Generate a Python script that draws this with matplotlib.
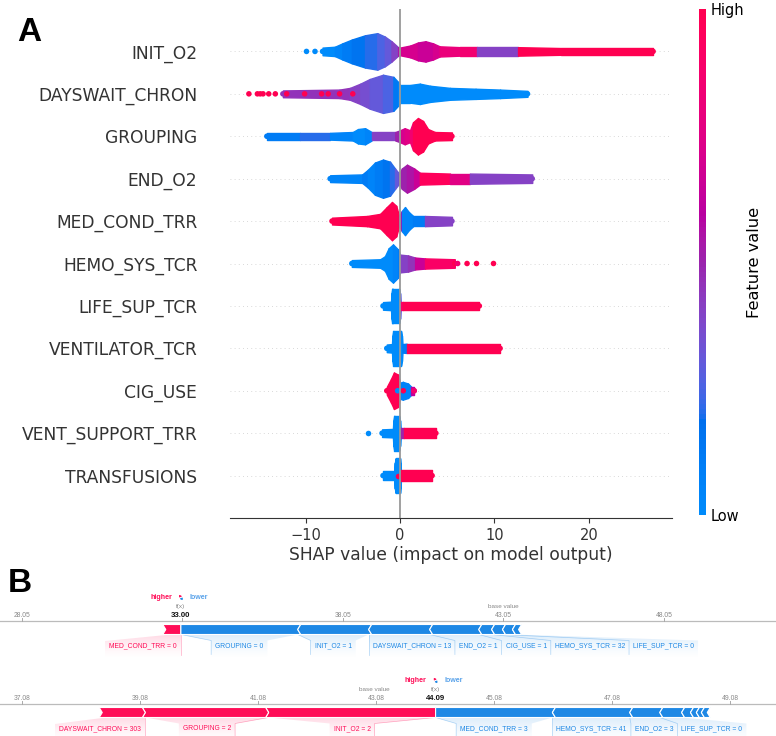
import numpy as np
import matplotlib
matplotlib.use("Agg")
import matplotlib.pyplot as plt
from matplotlib.colors import ListedColormap
from matplotlib.patches import Polygon
from matplotlib.cm import ScalarMappable

# ---------------- panel A: SHAP summary (beeswarm) ----------------
# rows from bottom to top
FEATURES = ["TRANSFUSIONS", "VENT_SUPPORT_TRR", "CIG_USE", "VENTILATOR_TCR",
            "LIFE_SUP_TCR", "HEMO_SYS_TCR", "MED_COND_TRR", "END_O2",
            "GROUPING", "DAYSWAIT_CHRON", "INIT_O2"]

# swarm outline per feature: shap value, half thickness (row units), feature value colour (0 low .. 1 high)
INIT_O2_X = [-8.2, -6.9, -6.1, -5.1, -3.7, -2.4, -1.6, -0.9, -0.2, 0.0, 1.1, 1.9, 2.7, 3.5, 4.2, 6.4, 8.2, 12.5, 17.0, 26.8]
INIT_O2_H = [0.09, 0.11, 0.19, 0.28, 0.38, 0.43, 0.35, 0.24, 0.10, 0.09, 0.14, 0.21, 0.24, 0.19, 0.12, 0.10, 0.10, 0.10, 0.08, 0.08]
INIT_O2_C = [0.0, 0.05, 0.1, 0.15, 0.2, 0.25, 0.3, 0.4, 0.55, 0.7, 0.7, 0.65, 0.65, 0.7, 0.8, 0.85, 0.4, 1.0, 1.0, 1.0]
INIT_O2_DOTS = [-9.9, -9.0]
INIT_O2_DOTC = [0.0, 0.0]

DAYSWAIT_X = [-12.4, -6.4, -5.3, -4.2, -3.2, -1.8, -0.7, -0.2, 0.0, 1.1, 2.1, 3.2, 5.3, 8.0, 10.6, 13.5]
DAYSWAIT_H = [0.08, 0.10, 0.14, 0.24, 0.35, 0.45, 0.40, 0.28, 0.21, 0.21, 0.24, 0.19, 0.14, 0.12, 0.10, 0.07]
DAYSWAIT_C = [0.45, 0.45, 0.4, 0.35, 0.3, 0.25, 0.12, 0.05, 0.0, 0.0, 0.0, 0.0, 0.0, 0.0, 0.0, 0.0]
DAYSWAIT_DOTS = [-16.0, -15.1, -14.8, -14.5, -13.9, -13.2, -12.0, -10.1, -8.3, -7.6, -6.4, -5.0]
DAYSWAIT_DOTC = [1.0] * 12

GROUPING_X = [-14.1, -10.6, -7.4, -5.0, -4.45, -3.7, -3.0, -0.5, 0.0, 0.5, 1.06, 1.38, 1.9, 2.44, 2.97, 3.7, 5.5]
GROUPING_H = [0.08, 0.08, 0.08, 0.10, 0.17, 0.19, 0.10, 0.10, 0.14, 0.19, 0.14, 0.33, 0.43, 0.36, 0.17, 0.10, 0.09]
GROUPING_C = [0.1, 0.2, 0.05, 0.0, 0.0, 0.05, 0.4, 0.5, 0.7, 0.75, 0.85, 1.0, 1.0, 1.0, 1.0, 1.0, 1.0]

END_O2_X = [-7.4, -4.0, -3.4, -2.65, -1.8, -1.06, -0.53, -0.1, 0.2, 0.74, 1.5, 2.1, 5.3, 7.4, 14.0]
END_O2_H = [0.08, 0.10, 0.21, 0.38, 0.45, 0.40, 0.24, 0.12, 0.24, 0.33, 0.24, 0.14, 0.12, 0.12, 0.10]
END_O2_C = [0.05, 0.1, 0.05, 0.1, 0.15, 0.2, 0.3, 0.5, 0.5, 0.55, 0.65, 0.95, 0.75, 0.4, 0.4]

MED_COND_X = [-7.2, -3.5, -2.1, -1.4, -0.85, -0.4, -0.1, 0.2, 0.53, 0.95, 1.4, 2.65, 5.5]
MED_COND_H = [0.08, 0.12, 0.17, 0.33, 0.45, 0.36, 0.12, 0.24, 0.33, 0.21, 0.12, 0.12, 0.10]
MED_COND_C = [1.0, 1.0, 1.0, 1.0, 1.0, 1.0, 0.6, 0.05, 0.05, 0.05, 0.1, 0.4, 0.4]

HEMO_X = [-5.1, -2.1, -1.6, -1.2, -0.74, -0.2, 0.0, 0.85, 1.6, 2.65, 5.8]
HEMO_H = [0.08, 0.10, 0.17, 0.36, 0.45, 0.33, 0.21, 0.19, 0.14, 0.12, 0.10]
HEMO_C = [0.0, 0.0, 0.0, 0.0, 0.05, 0.1, 0.4, 0.45, 0.65, 0.9, 1.0]
HEMO_DOTS = [6.1, 7.1, 8.1, 9.9]
HEMO_DOTC = [0.85, 1.0, 1.0, 1.0]

LIFE_SUP_X = [-1.8, -0.95, -0.9, -0.8, -0.1, 0.0, 0.05, 0.3, 8.4]
LIFE_SUP_H = [0.09, 0.10, 0.30, 0.41, 0.41, 0.30, 0.10, 0.10, 0.10]
LIFE_SUP_C = [0.0, 0.0, 0.0, 0.0, 0.0, 0.3, 0.9, 1.0, 1.0]

VENTILATOR_X = [-1.4, -0.85, -0.8, -0.7, 0.1, 0.2, 0.25, 0.7, 10.6]
VENTILATOR_H = [0.09, 0.10, 0.30, 0.41, 0.41, 0.30, 0.10, 0.11, 0.11]
VENTILATOR_C = [0.0, 0.0, 0.0, 0.0, 0.0, 0.0, 0.1, 1.0, 1.0]

CIG_USE_X = [-1.4, -0.95, -0.64, -0.2, 0.0, 0.3, 0.85, 1.17, 1.5]
CIG_USE_H = [0.09, 0.28, 0.43, 0.38, 0.19, 0.21, 0.17, 0.10, 0.10]
CIG_USE_C = [1.0, 1.0, 1.0, 1.0, 0.05, 0.05, 0.05, 0.6, 0.9]
CIG_USE_DOTS = [-0.25, 0.35, 1.5]
CIG_USE_DOTC = [0.0, 1.0, 0.85]

VENT_SUP_X = [-1.9, -0.75, -0.7, -0.6, -0.1, 0.0, 0.05, 0.42, 3.8]
VENT_SUP_H = [0.09, 0.10, 0.30, 0.41, 0.41, 0.30, 0.12, 0.12, 0.12]
VENT_SUP_C = [0.0, 0.0, 0.0, 0.0, 0.0, 0.0, 0.5, 1.0, 1.0]
VENT_SUP_DOTS = [-3.4]
VENT_SUP_DOTC = [0.0]

TRANSF_X = [-1.8, -0.6, -0.55, -0.45, 0.0, 0.05, 0.1, 3.4]
TRANSF_H = [0.10, 0.10, 0.30, 0.41, 0.41, 0.30, 0.12, 0.12]
TRANSF_C = [0.0, 0.0, 0.0, 0.0, 0.0, 0.0, 1.0, 1.0]
TRANSF_DOTS = [-0.25]
TRANSF_DOTC = [1.0]

SWARMS = [
    (TRANSF_X, TRANSF_H, TRANSF_C, TRANSF_DOTS, TRANSF_DOTC),
    (VENT_SUP_X, VENT_SUP_H, VENT_SUP_C, VENT_SUP_DOTS, VENT_SUP_DOTC),
    (CIG_USE_X, CIG_USE_H, CIG_USE_C, CIG_USE_DOTS, CIG_USE_DOTC),
    (VENTILATOR_X, VENTILATOR_H, VENTILATOR_C, [], []),
    (LIFE_SUP_X, LIFE_SUP_H, LIFE_SUP_C, [], []),
    (HEMO_X, HEMO_H, HEMO_C, HEMO_DOTS, HEMO_DOTC),
    (MED_COND_X, MED_COND_H, MED_COND_C, [], []),
    (END_O2_X, END_O2_H, END_O2_C, [], []),
    (GROUPING_X, GROUPING_H, GROUPING_C, [], []),
    (DAYSWAIT_X, DAYSWAIT_H, DAYSWAIT_C, DAYSWAIT_DOTS, DAYSWAIT_DOTC),
    (INIT_O2_X, INIT_O2_H, INIT_O2_C, INIT_O2_DOTS, INIT_O2_DOTC),
]

# ---------------- panel B: two force plots ----------------
FP1_BASE, FP1_FX = 43.05, 33.00
FP1_NAMES = ["MED_COND_TRR", "GROUPING", "INIT_O2", "DAYSWAIT_CHRON", "END_O2", "CIG_USE", "HEMO_SYS_TCR", "LIFE_SUP_TCR", ""]
FP1_VALUES = ["0", "0", "1", "13", "1", "1", "32", "0", ""]
FP1_EFFECTS = [0.47, -3.64, -2.21, -1.90, -1.53, -0.40, -0.34, -0.31, -0.19]
FP1_TICKS = [28.05, 33.05, 38.05, 43.05, 48.05]

FP2_BASE, FP2_FX = 43.05, 44.09
FP2_NAMES = ["INIT_O2", "GROUPING", "DAYSWAIT_CHRON", "MED_COND_TRR", "HEMO_SYS_TCR", "END_O2", "LIFE_SUP_TCR", "", "", "", ""]
FP2_VALUES = ["2", "2", "303", "3", "41", "3", "0", "", "", "", ""]
FP2_EFFECTS = [2.83, 2.09, 0.73, -1.98, -1.31, -0.51, -0.37, -0.15, -0.10, -0.085, -0.10]
FP2_TICKS = [37.08, 39.08, 41.08, 43.08, 45.08, 47.08, 49.08]


# shap red_blue colormap (Lch interpolation)
def lch_to_rgb(l, c, h):
    a, b = c * np.cos(h), c * np.sin(h)
    fy = (l + 16) / 116
    fs = np.array([a / 500 + fy, fy, fy - b / 200])
    xyz = np.where(fs > 0.2068966, fs ** 3, (fs - 16 / 116) / 7.787) * np.array([0.95047, 1.0, 1.08883])
    m = np.array([[3.24048134, -1.53715152, -0.49853633],
                  [-0.96925495, 1.87599, 0.04155593],
                  [0.05564664, -0.20404134, 1.05731107]])
    rgb = m @ xyz
    rgb = np.where(rgb > 0.0031308, 1.055 * np.abs(rgb) ** (1 / 2.4) - 0.055, 12.92 * rgb)
    return np.clip(rgb, 0, 1)


n = 100
ls = list(np.linspace(54, 40, n // 2)) + list(np.linspace(40, 54, n // 2))
cs = np.linspace(70, 90, n)
hs = np.linspace(4.6588, 0.35470565 + 2 * np.pi, n)
red_blue = ListedColormap([lch_to_rgb(l, c, h) for l, c, h in zip(ls, cs, hs)])

RED = "#ff0d57"
BLUE = "#1e88e5"

fig = plt.figure(figsize=(7.76, 7.36), dpi=100)
W, H = 776, 736


def px_axes(x0, y0, x1, y1):
    return fig.add_axes([x0 / W, 1 - y1 / H, (x1 - x0) / W, (y1 - y0) / H])


ax = px_axes(230, 9, 672, 518)
for row, (xs, hh, cc, dots, dotc) in enumerate(SWARMS):
    ax.axhline(row, color="#cccccc", lw=0.6, dashes=(1, 4), zorder=0)
    for i in range(len(xs) - 1):
        col = red_blue(cc[i])
        ax.fill_between([xs[i], xs[i + 1]], [row - hh[i], row - hh[i + 1]],
                        [row + hh[i], row + hh[i + 1]], color=col, lw=1.0, ec=col, zorder=2)
    ax.scatter([xs[0], xs[-1]], [row, row], s=16, c=[red_blue(cc[0]), red_blue(cc[-1])], lw=0, zorder=2)
    if dots:
        ax.scatter(dots, [row] * len(dots), s=16, c=[red_blue(v) for v in dotc], lw=0, zorder=3)

ax.axvline(0, color="#999999", lw=1.3, zorder=4)
ax.set_xlim(-18.0, 28.8)
ax.set_ylim(-1, 11)
ax.set_yticks(range(len(FEATURES)))
ax.set_yticklabels(FEATURES, fontsize=12.3, color="#333333")
ax.tick_params(axis="y", length=0, pad=23.5)
ax.set_xticks([-10, 0, 10, 20])
ax.tick_params(axis="x", labelsize=10.5, labelcolor="#333333", color="#333333")
ax.set_xlabel("SHAP value (impact on model output)", fontsize=12.3, color="#333333", labelpad=2)
for s in ["top", "right", "left"]:
    ax.spines[s].set_visible(False)
ax.spines["bottom"].set_color("#333333")

cax = px_axes(699, 9, 706, 515)
cb = fig.colorbar(ScalarMappable(cmap=red_blue), cax=cax, ticks=[0, 1])
cb.set_ticklabels(["Low", "High"])
cb.ax.tick_params(length=0, labelsize=10.5, pad=3)
cb.outline.set_visible(False)
cb.set_label("Feature value", fontsize=11.7, labelpad=2)

fig.text(17 / W, 1 - 41 / H, "A", fontsize=24, fontweight="bold", family="Liberation Sans", va="baseline")
fig.text(8 / W, 1 - 592 / H, "B", fontsize=24, fontweight="bold", family="Liberation Sans", va="baseline")

renderer = fig.canvas.get_renderer()
LFONT = ["Liberation Sans", "DejaVu Sans"]


def force_plot(fax, base, fx, names, values, effects, ticks, xlim, ya):
    fax.set_xlim(*xlim)
    fax.axis("off")
    ppu = W / (xlim[1] - xlim[0])  # pixels per unit
    d = 3.0 / ppu
    pad = 4.0 / ppu
    bt, bb = ya + 4, ya + 14  # bar top / bottom rows
    ym = (bt + bb) / 2
    ylab, yend = ya + 25.5, ya + 40

    fax.plot(xlim, [ya, ya], color="#bbbbbb", lw=0.9, zorder=1)
    step = ticks[1] - ticks[0]
    for t in ticks:
        fax.plot([t, t], [ya - 3, ya], color="#aaaaaa", lw=0.7)
        if abs(t - fx) > 0.3 * step:
            fax.text(t, ya - 5, f"{t:.2f}", ha="center", va="center", fontsize=4.9, color="#888888", family=LFONT)
    fax.text(base, ya - 14, "base value", ha="center", va="center", fontsize=4.6, color="#888888", family=LFONT)
    fax.text(fx, ya - 14, "f(x)", ha="center", va="center", fontsize=4.6, color="#888888", family=LFONT)
    fax.text(fx, ya - 5, f"{fx:.2f}", ha="center", va="center", fontsize=5.6, fontweight="bold", color="#111111", family=LFONT)
    yl = ya - 23
    fax.text(fx - 9 / ppu, yl, "higher", ha="right", va="center", fontsize=5.1, fontweight="bold", color=RED, family=LFONT)
    fax.text(fx + 9 / ppu, yl, "lower", ha="left", va="center", fontsize=5.1, fontweight="bold", color="#5aa3ea", family=LFONT)
    fax.annotate("", xy=(fx + 4 / ppu, yl - 1.3), xytext=(fx - 4 / ppu, yl - 1.3),
                 arrowprops=dict(arrowstyle="-|>", color=RED, lw=0.6, mutation_scale=3))
    fax.annotate("", xy=(fx - 4 / ppu, yl + 1.3), xytext=(fx + 4 / ppu, yl + 1.3),
                 arrowprops=dict(arrowstyle="-|>", color=BLUE, lw=0.6, mutation_scale=3))

    for sign, col in ((1, RED), (-1, BLUE)):
        cursor_seg = fx
        cursor_lab = fx
        first = True
        for name, val, e in zip(names, values, effects):
            if np.sign(e) != sign:
                continue
            m = abs(e)
            if sign > 0:
                s0, s1 = cursor_seg - m, cursor_seg
                cursor_seg = s0
                left = s0 - d
                pts = [(s1 if first else s1 - d, bt), (left, bt), (s0, ym), (left, bb), (s1 if first else s1 - d, bb)]
                if not first:
                    pts.insert(0, (s1, ym))
            else:
                s0, s1 = cursor_seg, cursor_seg + m
                cursor_seg = s1
                pts = [(s0 if first else s0 + d, bt), (s1 + d, bt), (s1, ym), (s1 + d, bb), (s0 if first else s0 + d, bb)]
                if not first:
                    pts.insert(0, (s0, ym))
            fax.add_patch(Polygon(pts, closed=True, fc=col, ec="white", lw=0.8, zorder=3))
            if name:
                t = fax.text(0, ylab, f"{name} = {val}", ha="center", va="center", fontsize=4.9, color=col, family=LFONT, zorder=4)
                w = t.get_window_extent(renderer).width / ppu + 2 * pad
                if sign > 0:
                    b1 = (s0 + s1) / 2 + w / 2 if w <= m else s1
                    b1 = min(b1, cursor_lab)
                    b0 = b1 - w
                    cursor_lab = b0
                    edge, sedge = b1, s1
                else:
                    b0 = (s0 + s1) / 2 - w / 2 if w <= m else s0
                    b0 = max(b0, cursor_lab)
                    b1 = b0 + w
                    cursor_lab = b1
                    edge, sedge = b0, s0
                t.set_x((b0 + b1) / 2)
                shape = [(s0, bb), (s1, bb), (b1, bb + 6), (b1, yend), (b0, yend), (b0, bb + 6)]
                grad = np.zeros((60, 1, 4))
                grad[:, 0, :3] = matplotlib.colors.to_rgb(col)
                grad[:, 0, 3] = 0.16 * np.linspace(1.0, 0.0, 60) ** 1.6
                im = fax.imshow(grad, extent=(min(s0, b0), max(s1, b1), yend, bb), aspect="auto",
                                interpolation="bilinear", zorder=2)
                im.set_clip_path(Polygon(shape, closed=True, transform=fax.transData))
                fax.plot([sedge, edge, edge], [bb, bb + 6, yend - 6], color=col, lw=0.5, alpha=0.35, zorder=2)
            first = False
    fax.set_xlim(*xlim)


fax1 = px_axes(0, 572, W, 668)
fax1.set_ylim(668, 572)
force_plot(fax1, FP1_BASE, FP1_FX, FP1_NAMES, FP1_VALUES, FP1_EFFECTS, FP1_TICKS, (27.365, 51.54), 620.5)
fax1.set_ylim(668, 572)

fax2 = px_axes(0, 668, W, 736)
fax2.set_ylim(736, 668)
force_plot(fax2, FP2_BASE, FP2_FX, FP2_NAMES, FP2_VALUES, FP2_EFFECTS, FP2_TICKS, (36.707, 49.86), 703.5)
fax2.set_ylim(736, 668)

fig.savefig("out.png", dpi=100)
